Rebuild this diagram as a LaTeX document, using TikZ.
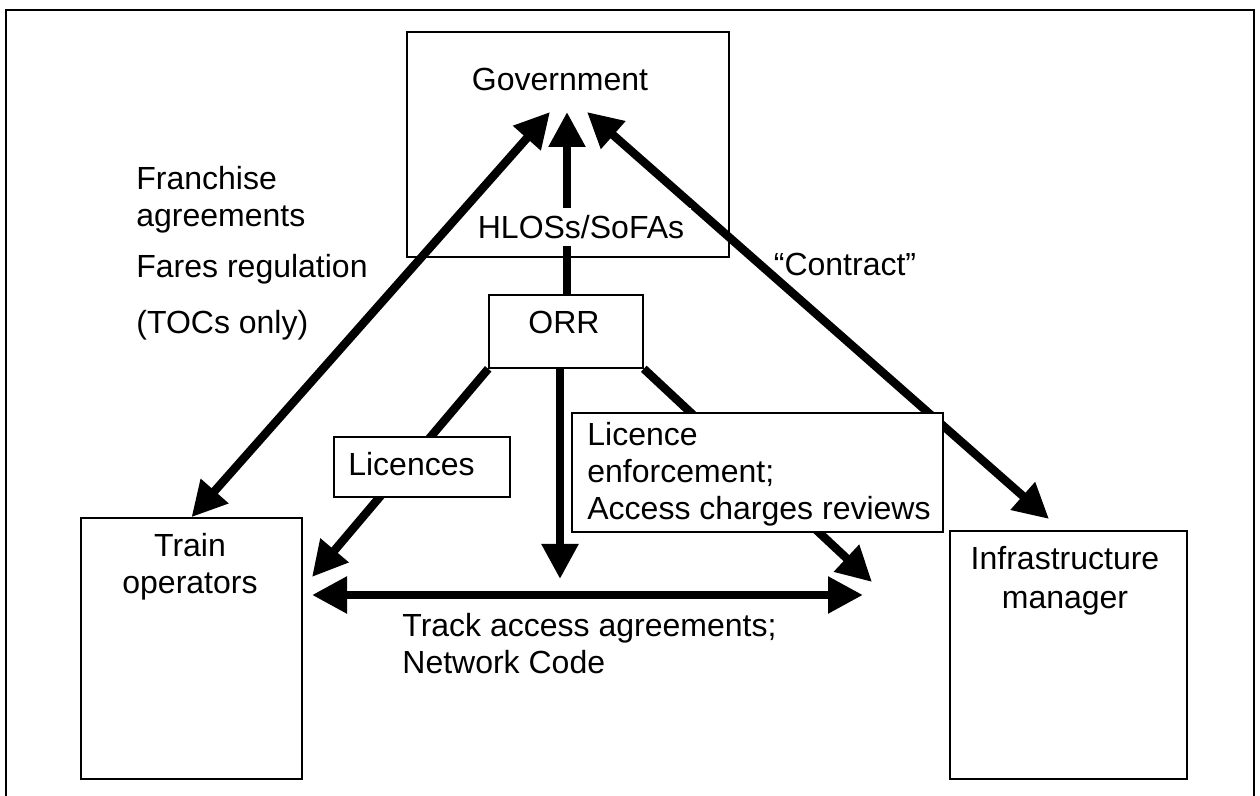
\documentclass[tikz,border=0pt]{standalone}
\usepackage{fontspec}
\setmainfont{Liberation Sans}
\usetikzlibrary{arrows.meta}
\begin{document}
\begin{tikzpicture}[
  x=0.5pt, y=-0.5pt,
  box/.style={draw, line width=0.8pt, fill=white, inner sep=0pt},
  txt/.style={font=\fontsize{16}{18.5}\selectfont, inner sep=0pt},
  arr/.style={line width=4.2pt, -{Triangle[length=17.5pt,width=17.5pt]}},
  dblarr/.style={line width=4.2pt, {Triangle[length=17.5pt,width=17.5pt]}-{Triangle[length=17.5pt,width=17.5pt]}}
]
\clip (0,0) rectangle (1260,796);
\draw[line width=1.2pt] (6,10) rectangle (1254,810);

\node[box, minimum width=161pt, minimum height=112.5pt] (gov) at (568,144.5) {};
\node[box, minimum width=77pt, minimum height=36.5pt] (orr) at (566,331.5) {};
\node[box, minimum width=110.5pt, minimum height=130.5pt] (train) at (191.5,648.5) {};
\node[box, minimum width=118.5pt, minimum height=124pt] (infra) at (1068.5,655) {};

\coordinate (govL) at (550,112);
\coordinate (govM) at (567,112);
\coordinate (govR) at (587,112);
\coordinate (infraTip) at (1049,519);
\coordinate (trainTip) at (312,577);
\coordinate (midTip) at (560,579);
\coordinate (enfTip) at (872,582);
\coordinate (trackL) at (312,595);
\coordinate (trackR) at (863,595);

\draw[dblarr] (train.north) -- (govL);
\draw[arr] (orr.north -| govM) -- (govM);
\draw[dblarr] (infraTip) -- (govR);
\draw[arr] (orr.south west) -- (trainTip);
\draw[arr] (orr.south -| midTip) -- (midTip);
\draw[arr] (orr.south east) -- (enfTip);
\draw[dblarr] (trackL) -- (trackR);

\node[box, minimum width=88pt, minimum height=30pt] (lic) at (422,467) {};
\node[box, minimum width=185.5pt, minimum height=59.5pt] (enf) at (757.5,472.5) {};

\node[txt] (govtext) at (560,79) {Government};
\node[txt, fill=white, inner sep=3.5pt] (hlos) at (581,227) {HLOSs/SoFAs};
\node[txt] (orrtext) at (564,322) {ORR};
\node[txt] (lictext) at (411.5,464) {Licences};
\node[txt, align=left, anchor=west] (enftext) at (587,474.7) {Licence\\enforcement;\\Access charges reviews};
\node[txt, align=center] (traintext) at (190,567) {Train\\operators};
\node[txt, align=center] (infratext) at (1065,581) {Infrastructure\\[1pt]manager};
\node[txt, align=left, anchor=west] (tracktext) at (402,644) {Track access agreements;\\Network Code};
\node[txt] (contract) at (845,264) {“Contract”};

\node[txt, anchor=base west] (fr1) at (136,189.5) {Franchise};
\node[txt, anchor=base west] (fr2) at (136,226.5) {agreements};
\node[txt, anchor=base west] (fr3) at (136,277.5) {Fares regulation};
\node[txt, anchor=base west] (fr4) at (136,333.5) {(TOCs only)};
\end{tikzpicture}
\end{document}
